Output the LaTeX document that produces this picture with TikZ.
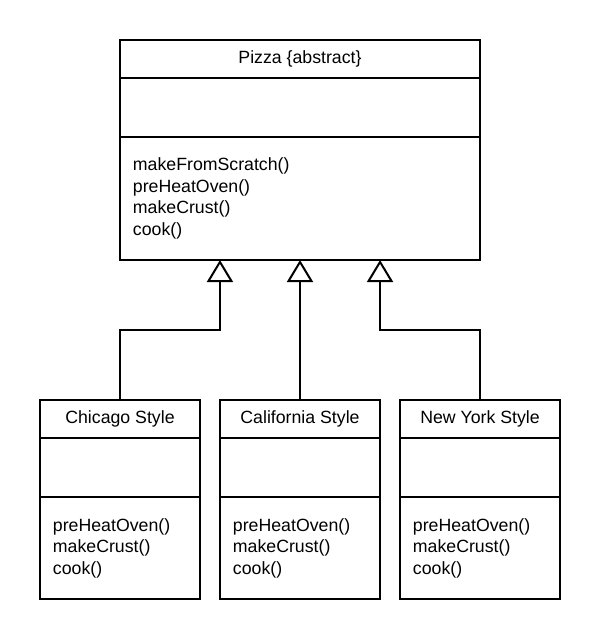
\documentclass[tikz,border=0pt]{standalone}
\usepackage{fontspec}
\setmainfont{Liberation Sans}
\usetikzlibrary{arrows.meta, positioning, calc}

\newcommand{\pxu}{0.025cm}

\begin{document}
\begin{tikzpicture}[x=\pxu, y=-\pxu,
    box/.style={draw, line width=0.05cm, outer sep=0pt, inner sep=0pt,
        font=\fontsize{12.6}{15.3}\selectfont},
    classname/.style={box, minimum width=#1, minimum height=38*\pxu},
    classattr/.style={box, minimum width=#1, minimum height=59*\pxu},
    classops/.style={box, text width=#1, inner xsep=0.325cm, align=left},
    extends/.style={line width=0.05cm, -{Triangle[open, length=0.55cm, width=0.65cm]}}]
    \useasboundingbox (0,0) rectangle (600,639);
    % abstract base class
    \node[classname=9cm] (pizza) at (300,59) {Pizza \{abstract\}};
    \node[classattr=9cm, below=0pt of pizza] (pizza-attr) {};
    \node[classops=8.35cm, minimum height=123*\pxu, below=0pt of pizza-attr] (pizza-ops)
        {makeFromScratch()\\preHeatOven()\\makeCrust()\\cook()};
    % concrete styles
    \node[classname=4cm] (chicago) at (120,419) {Chicago Style};
    \node[classattr=4cm, below=0pt of chicago] (chicago-attr) {};
    \node[classops=3.35cm, minimum height=102*\pxu, below=0pt of chicago-attr] (chicago-ops)
        {preHeatOven()\\makeCrust()\\cook()};
    \node[classname=4cm] (california) at (300,419) {California Style};
    \node[classattr=4cm, below=0pt of california] (california-attr) {};
    \node[classops=3.35cm, minimum height=102*\pxu, below=0pt of california-attr] (california-ops)
        {preHeatOven()\\makeCrust()\\cook()};
    \node[classname=4cm] (newyork) at (480,419) {New York Style};
    \node[classattr=4cm, below=0pt of newyork] (newyork-attr) {};
    \node[classops=3.35cm, minimum height=102*\pxu, below=0pt of newyork-attr] (newyork-ops)
        {preHeatOven()\\makeCrust()\\cook()};
    % generalization
    \coordinate (hook-chi) at ($(pizza-ops.south west)+(100,0)$);
    \coordinate (hook-cal) at (pizza-ops.south);
    \coordinate (hook-ny) at ($(pizza-ops.south east)+(-100,0)$);
    \draw[extends] (chicago.north) -- ++(0,-70) -| (hook-chi);
    \draw[extends] (california.north) -- (hook-cal);
    \draw[extends] (newyork.north) -- ++(0,-70) -| (hook-ny);
\end{tikzpicture}
\end{document}
